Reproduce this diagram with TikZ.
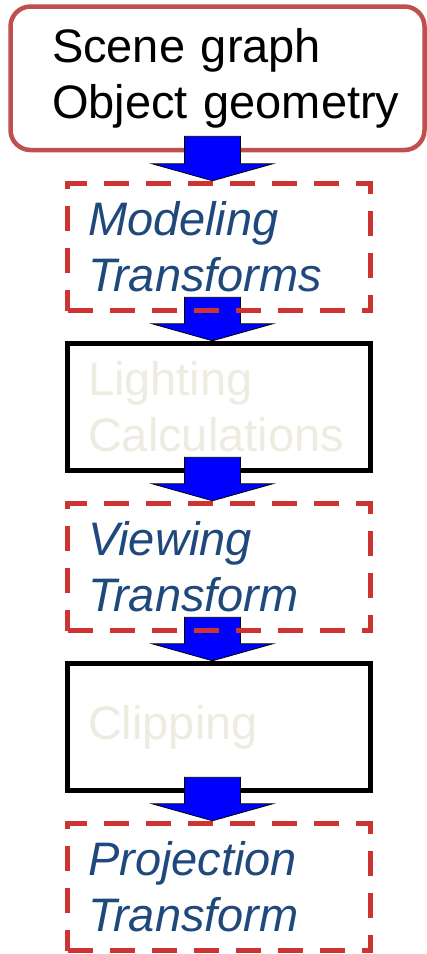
\documentclass[tikz,border=0pt]{standalone}
\usepackage{fontspec}
\setmainfont{Liberation Sans}
\usepackage{xcolor}
\usetikzlibrary{calc}
\definecolor{SceneRed}{HTML}{C0504D}
\definecolor{DashRed}{HTML}{CC3333}
\definecolor{TransBlue}{HTML}{1F497D}
\definecolor{Faint}{HTML}{EEECE1}
\definecolor{FlowBlue}{HTML}{0000FF}
\pgfdeclarelayer{back}
\pgfdeclarelayer{mid}
\pgfsetlayers{back,mid,main}

\begin{document}
\begin{tikzpicture}[
  x=1pt,y=1pt,
  every node/.style={font=\fontsize{47}{56}\selectfont},
  source/.style={draw=SceneRed,line width=4.5pt,rounded corners=20pt,fill=white,
    text width=331pt,inner xsep=41.5pt,inner ysep=0pt,minimum height=143.5pt,align=left},
  stage/.style={draw=black,line width=5pt,fill=white,text=Faint,
    text width=262pt,inner xsep=20.5pt,inner ysep=0pt,minimum height=127.5pt,align=left},
  transform/.style={draw=DashRed,line width=5pt,dash pattern=on 25pt off 17pt,
    text=TransBlue,font=\fontsize{47}{56}\selectfont\itshape,
    text width=262pt,inner xsep=20.5pt,inner ysep=0pt,minimum height=127.5pt,align=left},
  flow/.style={fill=FlowBlue,draw=black,line width=0.8pt,line join=miter}
]
\useasboundingbox (0,0) rectangle (427,-954);

% Boxes that sit under the arrows.
\begin{pgfonlayer}{back}
  \fill[white] (0,0) rectangle (427,-954);
  \node[source] (scene) at (217.5,-78.25) {Scene graph\\\mbox{Object geometry}};
  \node[stage] (light) at (219,-407) {Lighting\\Calculations};
  \node[stage] (clip) at (219,-727) {Clipping};
\end{pgfonlayer}

% Transform stages, dashed on top.
\node[transform] (model) at (219,-247) {Modeling\\Transforms};
\node[transform] (view) at (219,-567) {Viewing\\Transform};
\node[transform] (proj) at (219,-887) {Projection\\Transform};

% Block arrows between the stages.
\begin{pgfonlayer}{mid}
  \foreach \a/\b in {scene/model,model/light,light/view,view/clip,clip/proj}
    \draw[flow] let \p1=(\a.south), \p2=(\b.north) in
      (\x2-34.5pt,\y1+16pt) -- (\x2+21.5pt,\y1+16pt) -- (\x2+21.5pt,\y2+17pt)
      -- (\x2+54pt,\y2+17pt) -- (\x2-6.5pt,\y2) -- (\x2-67pt,\y2+17pt)
      -- (\x2-34.5pt,\y2+17pt) -- cycle;
\end{pgfonlayer}
\end{tikzpicture}
\end{document}
